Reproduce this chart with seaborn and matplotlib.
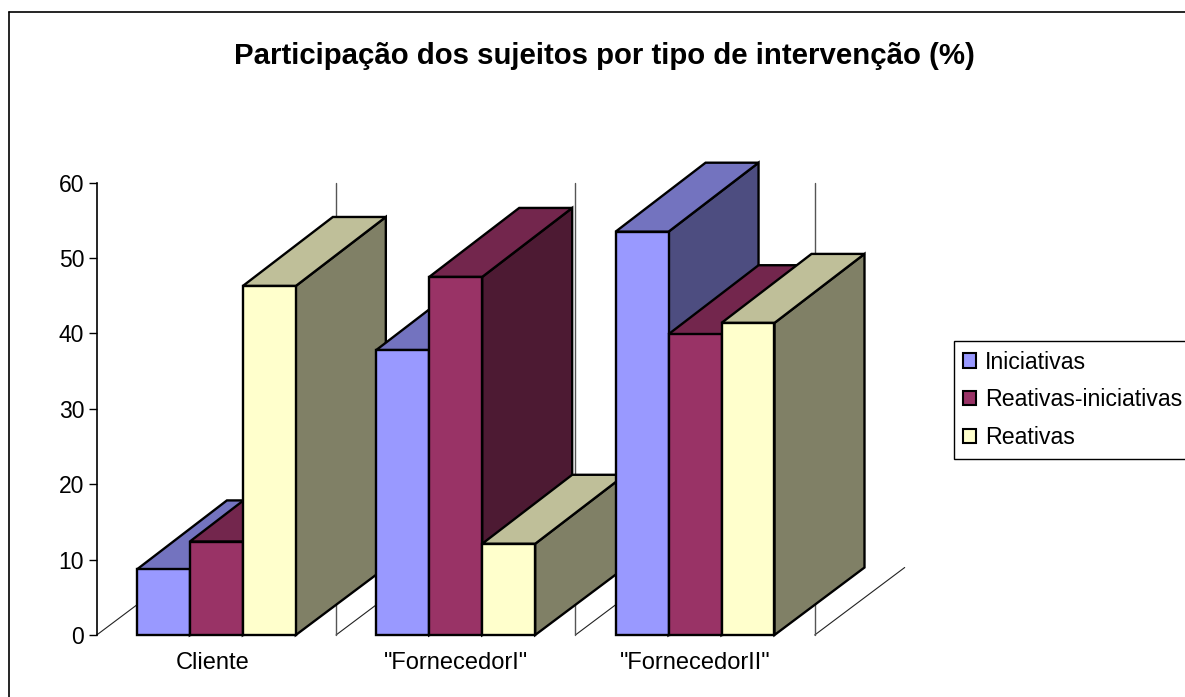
import matplotlib
matplotlib.use("Agg")
import matplotlib.pyplot as plt
from matplotlib.lines import Line2D
from matplotlib.patches import Polygon
from matplotlib.transforms import ScaledTranslation
import pandas as pd
import seaborn as sns
from matplotlib.colors import to_rgb

categories = ['Cliente', '"FornecedorI"', '"FornecedorII"']
series_names = ['Iniciativas', 'Reativas-iniciativas', 'Reativas']
iniciativas = [8.7, 37.8, 53.5]
reativas_iniciativas = [12.4, 47.5, 39.9]
reativas = [46.3, 12.1, 41.4]
colors = ['#9999FF', '#993366', '#FFFFCC']
y_ticks = [0, 10, 20, 30, 40, 50, 60]
title = 'Participação dos sujeitos por tipo de intervenção (%)'

W, H = 1185, 697
sns.set_theme(style='white')
plt.rcParams['font.family'] = ['Liberation Sans', 'DejaVu Sans']

df = pd.DataFrame({
    'cat': categories * 3,
    'serie': [s for s in series_names for _ in categories],
    'val': iniciativas + reativas_iniciativas + reativas,
})

fig = plt.figure(figsize=(W / 100, H / 100), dpi=100, facecolor='white')
L, R, T, B = 96.7, 814.7, 182.7, 635.0
ax = fig.add_axes([L / W, (H - B) / H, (R - L) / W, (B - T) / H])
ax.set_facecolor('none')

sns.barplot(data=df, x='cat', y='val', hue='serie', order=categories,
            hue_order=series_names, palette=colors, saturation=1, width=0.664,
            gap=0, edgecolor='black', linewidth=1.7, ax=ax, legend=False, zorder=10)
ax.set_xlim(-0.5, 2.5)
ax.set_ylim(0, 60)
ax.set_xlabel('')
ax.set_ylabel('')
ax.set_yticks(y_ticks)

# depth of the 3D projection, converted from pixels to data units
dx = 90 / ((R - L) / 3)
dy_base = 67.5 / ((B - T) / 60)
dy_top = 69 / ((B - T) / 60)


def shade(c, f):
    return tuple(v * f for v in to_rgb(c))


# back wall and floor lines
for x in [-0.5, 0.5, 1.5, 2.5]:
    ax.plot([x, x + dx], [0, dy_base], color='#222222', lw=0.8, clip_on=False, zorder=1)
for x in [0.5, 1.5, 2.5]:
    ax.plot([x, x], [0, 60], color='#555555', lw=1.0, clip_on=False, zorder=1)

# extruded faces from the bars that seaborn drew
bars = []
for container, color in zip(ax.containers, colors):
    for bar in container:
        bars.append((bar, color))
bars.sort(key=lambda t: t[0].get_x())
z = 10
for bar, color in bars:
    x0, w, h = bar.get_x(), bar.get_width(), bar.get_height()
    x1 = x0 + w
    side = Polygon([(x1, 0), (x1 + dx, dy_base), (x1 + dx, h + dy_top), (x1, h)],
                   facecolor=shade(color, 0.5), edgecolor='black', lw=1.7,
                   joinstyle='miter', clip_on=False, zorder=z)
    top = Polygon([(x0, h), (x0 + dx, h + dy_top), (x1 + dx, h + dy_top), (x1, h)],
                  facecolor=shade(color, 0.75), edgecolor='black', lw=1.7,
                  joinstyle='miter', clip_on=False, zorder=z + 0.1)
    ax.add_patch(side)
    ax.add_patch(top)
    bar.set_zorder(z + 0.2)
    bar.set_clip_on(False)
    z += 1

sns.despine(ax=ax, top=True, right=True, bottom=True, left=False)
ax.spines['left'].set_color('black')
ax.spines['left'].set_linewidth(1.2)
ax.spines['left'].set_zorder(2)
ax.tick_params(axis='y', left=True, length=6, width=1, color='black', pad=3,
               labelsize=16.5, labelcolor='black')
ax.tick_params(axis='x', bottom=False, pad=6.5, labelsize=17, labelcolor='black')
lab0 = ax.get_xticklabels()[0]
lab0.set_transform(lab0.get_transform() + ScaledTranslation(-3.5 / 100, 0, fig.dpi_scale_trans))

handles = [plt.Rectangle((0, 0), 1, 1, facecolor=c, edgecolor='black', lw=1.5) for c in colors]
leg = fig.legend(handles, series_names, loc='upper left',
                 bbox_to_anchor=(953.5 / W, (H - 341) / H), bbox_transform=fig.transFigure,
                 borderaxespad=0, fontsize=16.7, frameon=True, fancybox=False,
                 edgecolor='black', framealpha=1, handlelength=0.56, handleheight=0.56,
                 handletextpad=0.38, labelspacing=0.63, borderpad=0.42, labelcolor='black')
leg.get_frame().set_linewidth(1.0)

fig.text(604 / W, (H - 56) / H, title, ha='center', va='center', fontsize=21.2,
         fontweight='bold', color='black')

fig.add_artist(Line2D([9 / W, 9 / W], [0, (H - 12) / H], color='black', lw=1.2))
fig.add_artist(Line2D([9 / W, 1], [(H - 12) / H, (H - 12) / H], color='black', lw=1.2))

fig.savefig('out.png', dpi=100, facecolor='white')
